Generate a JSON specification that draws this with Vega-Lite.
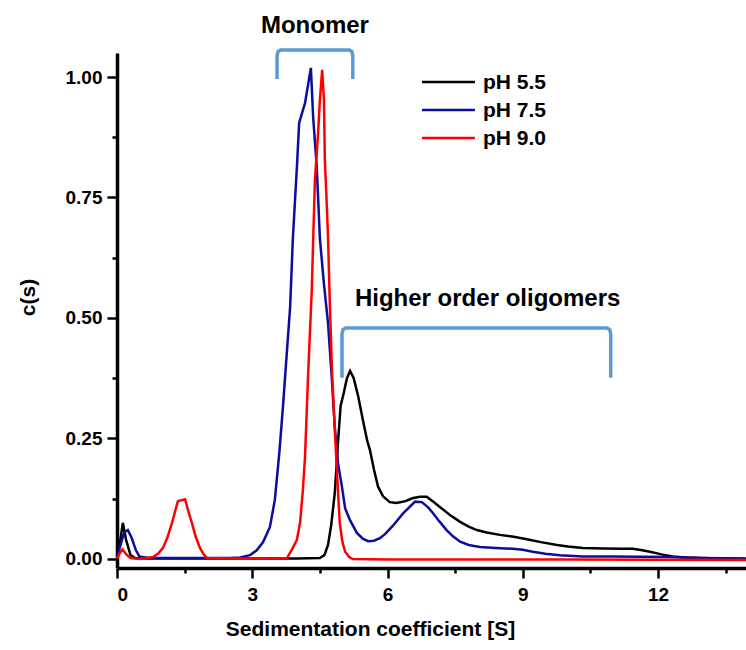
{
  "$schema": "https://vega.github.io/schema/vega-lite/v6.json",
  "autosize": "none",
  "width": 629,
  "height": 515,
  "padding": {"left": 117, "top": 53, "right": 0, "bottom": 82},
  "background": "white",
  "config": {
    "view": {"stroke": null},
    "font": "Liberation Sans",
    "axis": {
      "grid": false,
      "domainColor": "black",
      "domainWidth": 3.5,
      "tickColor": "black",
      "tickWidth": 2.5,
      "labelFont": "Liberation Sans",
      "labelFontWeight": "bold",
      "labelFontSize": 19,
      "labelColor": "black",
      "titleFont": "Liberation Sans",
      "titleFontWeight": "bold",
      "titleFontSize": 21,
      "titleColor": "black"
    }
  },
  "datasets": {
    "curves": [
      {"s": 0.0, "c": 0.005, "ph": "pH 5.5"},
      {"s": 0.06, "c": 0.03, "ph": "pH 5.5"},
      {"s": 0.13, "c": 0.075, "ph": "pH 5.5"},
      {"s": 0.2, "c": 0.04, "ph": "pH 5.5"},
      {"s": 0.3, "c": 0.008, "ph": "pH 5.5"},
      {"s": 0.4, "c": 0.002, "ph": "pH 5.5"},
      {"s": 0.6, "c": 0.001, "ph": "pH 5.5"},
      {"s": 1.5, "c": 0.001, "ph": "pH 5.5"},
      {"s": 3.0, "c": 0.001, "ph": "pH 5.5"},
      {"s": 4.0, "c": 0.001, "ph": "pH 5.5"},
      {"s": 4.5, "c": 0.002, "ph": "pH 5.5"},
      {"s": 4.6, "c": 0.008, "ph": "pH 5.5"},
      {"s": 4.68, "c": 0.029, "ph": "pH 5.5"},
      {"s": 4.75, "c": 0.07, "ph": "pH 5.5"},
      {"s": 4.83, "c": 0.137, "ph": "pH 5.5"},
      {"s": 4.9, "c": 0.24, "ph": "pH 5.5"},
      {"s": 4.96, "c": 0.318, "ph": "pH 5.5"},
      {"s": 5.03, "c": 0.345, "ph": "pH 5.5"},
      {"s": 5.1, "c": 0.375, "ph": "pH 5.5"},
      {"s": 5.17, "c": 0.39, "ph": "pH 5.5"},
      {"s": 5.25, "c": 0.375, "ph": "pH 5.5"},
      {"s": 5.35, "c": 0.337, "ph": "pH 5.5"},
      {"s": 5.45, "c": 0.29, "ph": "pH 5.5"},
      {"s": 5.55, "c": 0.245, "ph": "pH 5.5"},
      {"s": 5.61, "c": 0.226, "ph": "pH 5.5"},
      {"s": 5.7, "c": 0.185, "ph": "pH 5.5"},
      {"s": 5.79, "c": 0.15, "ph": "pH 5.5"},
      {"s": 5.9, "c": 0.13, "ph": "pH 5.5"},
      {"s": 6.05, "c": 0.118, "ph": "pH 5.5"},
      {"s": 6.2, "c": 0.116, "ph": "pH 5.5"},
      {"s": 6.4, "c": 0.12, "ph": "pH 5.5"},
      {"s": 6.55, "c": 0.126, "ph": "pH 5.5"},
      {"s": 6.72, "c": 0.129, "ph": "pH 5.5"},
      {"s": 6.87, "c": 0.129, "ph": "pH 5.5"},
      {"s": 7.0, "c": 0.12, "ph": "pH 5.5"},
      {"s": 7.16, "c": 0.108, "ph": "pH 5.5"},
      {"s": 7.4, "c": 0.09, "ph": "pH 5.5"},
      {"s": 7.61, "c": 0.077, "ph": "pH 5.5"},
      {"s": 7.8, "c": 0.067, "ph": "pH 5.5"},
      {"s": 7.98, "c": 0.06, "ph": "pH 5.5"},
      {"s": 8.2, "c": 0.055, "ph": "pH 5.5"},
      {"s": 8.49, "c": 0.05, "ph": "pH 5.5"},
      {"s": 8.8, "c": 0.046, "ph": "pH 5.5"},
      {"s": 9.09, "c": 0.041, "ph": "pH 5.5"},
      {"s": 9.4, "c": 0.035, "ph": "pH 5.5"},
      {"s": 9.76, "c": 0.029, "ph": "pH 5.5"},
      {"s": 10.0, "c": 0.026, "ph": "pH 5.5"},
      {"s": 10.33, "c": 0.023, "ph": "pH 5.5"},
      {"s": 10.8, "c": 0.022, "ph": "pH 5.5"},
      {"s": 11.2, "c": 0.021, "ph": "pH 5.5"},
      {"s": 11.44, "c": 0.021, "ph": "pH 5.5"},
      {"s": 11.65, "c": 0.018, "ph": "pH 5.5"},
      {"s": 11.82, "c": 0.015, "ph": "pH 5.5"},
      {"s": 12.1, "c": 0.009, "ph": "pH 5.5"},
      {"s": 12.33, "c": 0.005, "ph": "pH 5.5"},
      {"s": 12.6, "c": 0.003, "ph": "pH 5.5"},
      {"s": 12.93, "c": 0.002, "ph": "pH 5.5"},
      {"s": 13.4, "c": 0.001, "ph": "pH 5.5"},
      {"s": 13.95, "c": 0.0, "ph": "pH 5.5"},

      {"s": 0.0, "c": 0.005, "ph": "pH 7.5"},
      {"s": 0.08, "c": 0.03, "ph": "pH 7.5"},
      {"s": 0.16, "c": 0.055, "ph": "pH 7.5"},
      {"s": 0.24, "c": 0.06, "ph": "pH 7.5"},
      {"s": 0.32, "c": 0.045, "ph": "pH 7.5"},
      {"s": 0.42, "c": 0.018, "ph": "pH 7.5"},
      {"s": 0.5, "c": 0.005, "ph": "pH 7.5"},
      {"s": 0.7, "c": 0.002, "ph": "pH 7.5"},
      {"s": 1.5, "c": 0.002, "ph": "pH 7.5"},
      {"s": 2.5, "c": 0.002, "ph": "pH 7.5"},
      {"s": 2.73, "c": 0.003, "ph": "pH 7.5"},
      {"s": 2.95, "c": 0.008, "ph": "pH 7.5"},
      {"s": 3.1, "c": 0.018, "ph": "pH 7.5"},
      {"s": 3.24, "c": 0.035, "ph": "pH 7.5"},
      {"s": 3.39, "c": 0.066, "ph": "pH 7.5"},
      {"s": 3.5, "c": 0.122, "ph": "pH 7.5"},
      {"s": 3.6, "c": 0.22, "ph": "pH 7.5"},
      {"s": 3.68, "c": 0.315, "ph": "pH 7.5"},
      {"s": 3.76, "c": 0.42, "ph": "pH 7.5"},
      {"s": 3.84, "c": 0.523, "ph": "pH 7.5"},
      {"s": 3.9, "c": 0.665, "ph": "pH 7.5"},
      {"s": 3.99, "c": 0.813, "ph": "pH 7.5"},
      {"s": 4.04, "c": 0.905, "ph": "pH 7.5"},
      {"s": 4.17, "c": 0.946, "ph": "pH 7.5"},
      {"s": 4.3, "c": 1.019, "ph": "pH 7.5"},
      {"s": 4.35, "c": 0.917, "ph": "pH 7.5"},
      {"s": 4.43, "c": 0.813, "ph": "pH 7.5"},
      {"s": 4.5, "c": 0.665, "ph": "pH 7.5"},
      {"s": 4.59, "c": 0.57, "ph": "pH 7.5"},
      {"s": 4.68, "c": 0.49, "ph": "pH 7.5"},
      {"s": 4.76, "c": 0.38, "ph": "pH 7.5"},
      {"s": 4.83, "c": 0.274, "ph": "pH 7.5"},
      {"s": 4.9, "c": 0.2, "ph": "pH 7.5"},
      {"s": 4.99, "c": 0.149, "ph": "pH 7.5"},
      {"s": 5.06, "c": 0.105, "ph": "pH 7.5"},
      {"s": 5.17, "c": 0.08, "ph": "pH 7.5"},
      {"s": 5.32, "c": 0.054, "ph": "pH 7.5"},
      {"s": 5.45, "c": 0.042, "ph": "pH 7.5"},
      {"s": 5.57, "c": 0.037, "ph": "pH 7.5"},
      {"s": 5.7, "c": 0.038, "ph": "pH 7.5"},
      {"s": 5.83, "c": 0.043, "ph": "pH 7.5"},
      {"s": 5.95, "c": 0.052, "ph": "pH 7.5"},
      {"s": 6.1, "c": 0.067, "ph": "pH 7.5"},
      {"s": 6.35, "c": 0.095, "ph": "pH 7.5"},
      {"s": 6.61, "c": 0.119, "ph": "pH 7.5"},
      {"s": 6.76, "c": 0.118, "ph": "pH 7.5"},
      {"s": 6.9, "c": 0.107, "ph": "pH 7.5"},
      {"s": 7.01, "c": 0.095, "ph": "pH 7.5"},
      {"s": 7.15, "c": 0.078, "ph": "pH 7.5"},
      {"s": 7.31, "c": 0.06, "ph": "pH 7.5"},
      {"s": 7.45, "c": 0.047, "ph": "pH 7.5"},
      {"s": 7.61, "c": 0.036, "ph": "pH 7.5"},
      {"s": 7.8, "c": 0.029, "ph": "pH 7.5"},
      {"s": 8.05, "c": 0.025, "ph": "pH 7.5"},
      {"s": 8.4, "c": 0.023, "ph": "pH 7.5"},
      {"s": 8.78, "c": 0.021, "ph": "pH 7.5"},
      {"s": 9.0, "c": 0.019, "ph": "pH 7.5"},
      {"s": 9.22, "c": 0.015, "ph": "pH 7.5"},
      {"s": 9.5, "c": 0.011, "ph": "pH 7.5"},
      {"s": 9.82, "c": 0.008, "ph": "pH 7.5"},
      {"s": 10.33, "c": 0.005, "ph": "pH 7.5"},
      {"s": 11.0, "c": 0.005, "ph": "pH 7.5"},
      {"s": 12.2, "c": 0.004, "ph": "pH 7.5"},
      {"s": 13.0, "c": 0.002, "ph": "pH 7.5"},
      {"s": 13.95, "c": 0.001, "ph": "pH 7.5"},

      {"s": 0.0, "c": 0.0, "ph": "pH 9.0"},
      {"s": 0.06, "c": 0.012, "ph": "pH 9.0"},
      {"s": 0.12, "c": 0.02, "ph": "pH 9.0"},
      {"s": 0.2, "c": 0.01, "ph": "pH 9.0"},
      {"s": 0.3, "c": 0.002, "ph": "pH 9.0"},
      {"s": 0.5, "c": 0.0, "ph": "pH 9.0"},
      {"s": 0.8, "c": 0.004, "ph": "pH 9.0"},
      {"s": 0.92, "c": 0.012, "ph": "pH 9.0"},
      {"s": 1.02, "c": 0.023, "ph": "pH 9.0"},
      {"s": 1.12, "c": 0.045, "ph": "pH 9.0"},
      {"s": 1.22, "c": 0.075, "ph": "pH 9.0"},
      {"s": 1.35, "c": 0.12, "ph": "pH 9.0"},
      {"s": 1.51, "c": 0.124, "ph": "pH 9.0"},
      {"s": 1.58, "c": 0.1, "ph": "pH 9.0"},
      {"s": 1.66, "c": 0.075, "ph": "pH 9.0"},
      {"s": 1.75, "c": 0.045, "ph": "pH 9.0"},
      {"s": 1.84, "c": 0.023, "ph": "pH 9.0"},
      {"s": 1.92, "c": 0.01, "ph": "pH 9.0"},
      {"s": 2.0, "c": 0.002, "ph": "pH 9.0"},
      {"s": 2.5, "c": 0.001, "ph": "pH 9.0"},
      {"s": 3.5, "c": 0.001, "ph": "pH 9.0"},
      {"s": 3.77, "c": 0.002, "ph": "pH 9.0"},
      {"s": 3.9, "c": 0.023, "ph": "pH 9.0"},
      {"s": 3.99, "c": 0.04, "ph": "pH 9.0"},
      {"s": 4.06, "c": 0.075, "ph": "pH 9.0"},
      {"s": 4.12, "c": 0.14, "ph": "pH 9.0"},
      {"s": 4.17, "c": 0.212, "ph": "pH 9.0"},
      {"s": 4.24, "c": 0.386, "ph": "pH 9.0"},
      {"s": 4.32, "c": 0.558, "ph": "pH 9.0"},
      {"s": 4.35, "c": 0.66, "ph": "pH 9.0"},
      {"s": 4.39, "c": 0.786, "ph": "pH 9.0"},
      {"s": 4.46, "c": 0.884, "ph": "pH 9.0"},
      {"s": 4.5, "c": 0.952, "ph": "pH 9.0"},
      {"s": 4.55, "c": 1.015, "ph": "pH 9.0"},
      {"s": 4.59, "c": 0.952, "ph": "pH 9.0"},
      {"s": 4.61, "c": 0.828, "ph": "pH 9.0"},
      {"s": 4.65, "c": 0.74, "ph": "pH 9.0"},
      {"s": 4.68, "c": 0.668, "ph": "pH 9.0"},
      {"s": 4.72, "c": 0.53, "ph": "pH 9.0"},
      {"s": 4.77, "c": 0.386, "ph": "pH 9.0"},
      {"s": 4.83, "c": 0.27, "ph": "pH 9.0"},
      {"s": 4.88, "c": 0.178, "ph": "pH 9.0"},
      {"s": 4.94, "c": 0.075, "ph": "pH 9.0"},
      {"s": 5.0, "c": 0.035, "ph": "pH 9.0"},
      {"s": 5.06, "c": 0.015, "ph": "pH 9.0"},
      {"s": 5.15, "c": 0.004, "ph": "pH 9.0"},
      {"s": 5.23, "c": 0.0, "ph": "pH 9.0"},
      {"s": 6.0, "c": -0.001, "ph": "pH 9.0"},
      {"s": 10.0, "c": -0.001, "ph": "pH 9.0"},
      {"s": 13.95, "c": -0.002, "ph": "pH 9.0"}
    ],
    "brackets": [
      {"name": "monomer", "i": 0, "s": 3.55, "c": 0.996},
      {"name": "monomer", "i": 1, "s": 3.55, "c": 1.044},
      {"name": "monomer", "i": 2, "s": 3.572, "c": 1.053},
      {"name": "monomer", "i": 3, "s": 3.63, "c": 1.056},
      {"name": "monomer", "i": 4, "s": 5.15, "c": 1.056},
      {"name": "monomer", "i": 5, "s": 5.208, "c": 1.053},
      {"name": "monomer", "i": 6, "s": 5.23, "c": 1.044},
      {"name": "monomer", "i": 7, "s": 5.23, "c": 0.996},
      {"name": "oligomers", "i": 0, "s": 4.99, "c": 0.376},
      {"name": "oligomers", "i": 1, "s": 4.99, "c": 0.467},
      {"name": "oligomers", "i": 2, "s": 5.012, "c": 0.476},
      {"name": "oligomers", "i": 3, "s": 5.07, "c": 0.479},
      {"name": "oligomers", "i": 4, "s": 10.87, "c": 0.479},
      {"name": "oligomers", "i": 5, "s": 10.928, "c": 0.476},
      {"name": "oligomers", "i": 6, "s": 10.95, "c": 0.467},
      {"name": "oligomers", "i": 7, "s": 10.95, "c": 0.376}
    ],
    "notes": [
      {"label": "Monomer", "s": 4.39, "c": 1.105},
      {"label": "Higher order oligomers", "s": 8.22, "c": 0.54}
    ],
    "legend": [
      {"ph": "pH 5.5", "s": 6.763, "s2": 7.938, "t": 8.115, "c": 0.9896},
      {"ph": "pH 7.5", "s": 6.763, "s2": 7.938, "t": 8.115, "c": 0.9315},
      {"ph": "pH 9.0", "s": 6.763, "s2": 7.938, "t": 8.115, "c": 0.8734}
    ]
  },
  "layer": [
    {
      "data": {"name": "curves"},
      "mark": {"type": "line", "strokeWidth": 2.5, "interpolate": "linear"},
      "encoding": {
        "x": {
          "field": "s", "type": "quantitative",
          "scale": {"domain": [0, 13.95], "nice": false, "zero": false},
          "axis": {
            "title": "Sedimentation coefficient [S]",
            "values": [0, 1.5, 3, 4.5, 6, 7.5, 9, 10.5, 12, 13.5],
            "labelExpr": "datum.value % 3 == 0 ? datum.label : ''",
            "tickSize": {"condition": {"test": "datum.value % 3 != 0", "value": 5}, "value": 10},
            "labelPadding": 7,
            "titleX": 253,
            "titleY": 61,
            "titleBaseline": "middle",
            "titleAnchor": null
          }
        },
        "y": {
          "field": "c", "type": "quantitative",
          "scale": {"domain": [-0.0187, 1.0498], "nice": false, "zero": false},
          "axis": {
            "title": "c(s)",
            "values": [0, 0.125, 0.25, 0.375, 0.5, 0.625, 0.75, 0.875, 1.0],
            "labelExpr": "abs(datum.value*4 - round(datum.value*4)) < 0.001 ? format(datum.value, '.2f') : ''",
            "tickSize": {"condition": {"test": "abs(datum.value*4 - round(datum.value*4)) > 0.001", "value": 5}, "value": 10},
            "labelPadding": 5,
            "titleX": -89,
            "titleY": 244,
            "titleAngle": -90,
            "titleAlign": "center",
            "titleBaseline": "middle"
          }
        },
        "color": {
          "field": "ph", "type": "nominal",
          "scale": {"domain": ["pH 5.5", "pH 7.5", "pH 9.0"], "range": ["#000000", "#0c0c9e", "#ff0000"]},
          "legend": null
        }
      }
    },
    {
      "data": {"name": "legend"},
      "mark": {"type": "rule", "strokeWidth": 2.5},
      "encoding": {
        "x": {"field": "s", "type": "quantitative", "scale": {"domain": [0, 13.95], "nice": false, "zero": false}},
        "x2": {"field": "s2"},
        "y": {"field": "c", "type": "quantitative", "scale": {"domain": [-0.0187, 1.0498], "nice": false, "zero": false}},
        "color": {"field": "ph", "type": "nominal", "legend": null}
      }
    },
    {
      "data": {"name": "legend"},
      "mark": {"type": "text", "font": "Liberation Sans", "fontWeight": "bold", "fontSize": 21, "color": "black", "align": "left", "baseline": "middle", "dy": 1},
      "encoding": {
        "x": {"field": "t", "type": "quantitative", "scale": {"domain": [0, 13.95], "nice": false, "zero": false}},
        "y": {"field": "c", "type": "quantitative", "scale": {"domain": [-0.0187, 1.0498], "nice": false, "zero": false}},
        "text": {"field": "ph"}
      }
    },
    {
      "data": {"name": "brackets"},
      "mark": {"type": "line", "color": "#5b9bd5", "strokeWidth": 3.5},
      "encoding": {
        "x": {"field": "s", "type": "quantitative", "scale": {"domain": [0, 13.95], "nice": false, "zero": false}},
        "y": {"field": "c", "type": "quantitative", "scale": {"domain": [-0.0187, 1.0498], "nice": false, "zero": false}},
        "detail": {"field": "name"},
        "order": {"field": "i", "type": "quantitative"}
      }
    },
    {
      "data": {"name": "notes"},
      "mark": {"type": "text", "font": "Liberation Sans", "fontWeight": "bold", "fontSize": 24, "color": "black", "align": "center", "baseline": "middle"},
      "encoding": {
        "x": {"field": "s", "type": "quantitative", "scale": {"domain": [0, 13.95], "nice": false, "zero": false}},
        "y": {"field": "c", "type": "quantitative", "scale": {"domain": [-0.0187, 1.0498], "nice": false, "zero": false}},
        "text": {"field": "label"}
      }
    }
  ]
}
